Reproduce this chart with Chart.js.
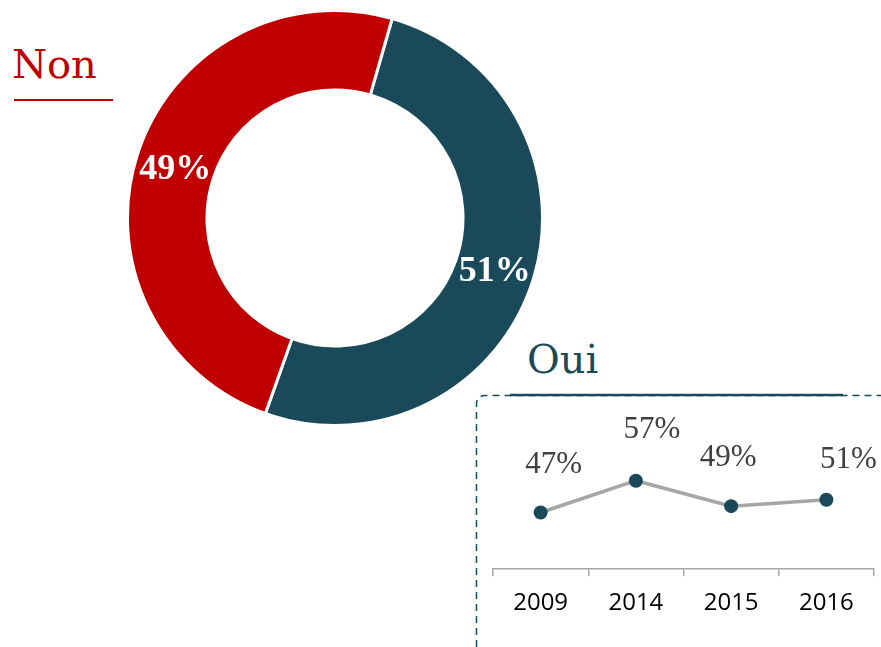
<!DOCTYPE html>
<html>
<head>
<meta charset="utf-8">
<script src="https://cdn.jsdelivr.net/npm/chart.js@4"></script>
<style>
  html, body { margin:0; padding:0; background:#fff; }
  body { width:881px; height:647px; position:relative; overflow:hidden; }
  #donut { position:absolute; left:126px; top:9px; }
  #line { position:absolute; left:470px; top:390px; }
  .lbl { position:absolute; font-family:"DejaVu Serif", serif; font-size:40px; line-height:40px; white-space:nowrap; }
  #non { left:12px; top:44px; color:#c00000; }
  #nonline { position:absolute; left:14px; top:99px; width:99px; height:2px; background:#c00000; }
  #oui { left:527px; top:339px; color:#1b4a59; }
</style>
</head>
<body>
<div id="non" class="lbl">Non</div>
<div id="nonline"></div>
<div id="oui" class="lbl">Oui</div>
<canvas id="donut" width="418" height="418"></canvas>
<canvas id="line" width="411" height="257"></canvas>
<script>
// ---- data ----
const donutLabels = ["Oui", "Non"];
const donutValues = [51, 49];
const years = ["2009", "2014", "2015", "2016"];
const ouiValues = [47, 57, 49, 51];

const TEAL = "#1a4a59";
const RED = "#c00000";

// ---- doughnut ----
const donutLabelPlugin = {
  id: "donutLabels",
  afterDatasetsDraw(chart) {
    const ctx = chart.ctx;
    const meta = chart.getDatasetMeta(0);
    ctx.save();
    ctx.font = "bold 36px 'Liberation Serif', serif";
    ctx.fillStyle = "#ffffff";
    ctx.textAlign = "center";
    ctx.textBaseline = "alphabetic";
    meta.data.forEach((arc, i) => {
      const p = arc.tooltipPosition();
      ctx.fillText(donutValues[i] + "%", p.x, p.y + 12);
    });
    ctx.restore();
  }
};

new Chart(document.getElementById("donut"), {
  type: "doughnut",
  data: {
    labels: donutLabels,
    datasets: [{
      data: donutValues,
      backgroundColor: [TEAL, RED],
      borderColor: "#ffffff",
      borderWidth: 3
    }]
  },
  options: {
    responsive: false,
    animation: false,
    rotation: 16,
    cutout: "61.7%",
    layout: { padding: 0 },
    plugins: { legend: { display: false }, tooltip: { enabled: false } }
  },
  plugins: [donutLabelPlugin]
});

// ---- line inset ----
const labelOffsets = [[13, -50], [16, -53], [-3, -51], [22, -42]];

const linePlugin = {
  id: "lineDecor",
  beforeDraw(chart) {
    const ctx = chart.ctx;
    const W = chart.width, H = chart.height;
    ctx.save();
    ctx.strokeStyle = TEAL;
    ctx.lineWidth = 1.5;
    ctx.setLineDash([7, 5]);
    const x0 = 6.5, y0 = 5.5, r = 8;
    ctx.beginPath();
    ctx.moveTo(x0, H);
    ctx.lineTo(x0, y0 + r);
    ctx.arcTo(x0, y0, x0 + r, y0, r);
    ctx.lineTo(W, y0);
    ctx.stroke();
    ctx.setLineDash([]);
    ctx.lineWidth = 2.5;
    ctx.beginPath();
    ctx.moveTo(40, 5);
    ctx.lineTo(373, 5);
    ctx.stroke();
    ctx.restore();
  },
  afterDatasetsDraw(chart) {
    const ctx = chart.ctx;
    const meta = chart.getDatasetMeta(0);
    ctx.save();
    ctx.font = "31px 'Liberation Serif', serif";
    ctx.fillStyle = "#404040";
    ctx.textAlign = "center";
    ctx.textBaseline = "alphabetic";
    meta.data.forEach((pt, i) => {
      const o = labelOffsets[i];
      ctx.fillText(ouiValues[i] + "%", pt.x + o[0], pt.y + o[1] + 10.5);
    });
    ctx.restore();
  }
};

new Chart(document.getElementById("line"), {
  type: "line",
  data: {
    labels: years,
    datasets: [{
      data: ouiValues,
      borderColor: "#a6a6a6",
      borderWidth: 3.5,
      pointRadius: 7,
      pointBackgroundColor: TEAL,
      pointBorderColor: TEAL,
      pointBorderWidth: 0,
      tension: 0,
      clip: false
    }]
  },
  options: {
    responsive: false,
    animation: false,
    layout: { padding: { left: 23, right: 4, top: 20, bottom: 16 } },
    scales: {
      x: {
        offset: true,
        grid: {
          offset: true,
          drawOnChartArea: false,
          drawTicks: true,
          tickLength: 7,
          color: "#a6a6a6",
          lineWidth: 1.5
        },
        border: { display: true, color: "#a6a6a6", width: 1.5 },
        ticks: {
          padding: 13,
          color: "#000000",
          font: { family: "'Open Sans', sans-serif", size: 24 }
        }
      },
      y: {
        display: false,
        min: 29.2,
        max: 79.2
      }
    },
    plugins: { legend: { display: false }, tooltip: { enabled: false } }
  },
  plugins: [linePlugin]
});
</script>
</body>
</html>
